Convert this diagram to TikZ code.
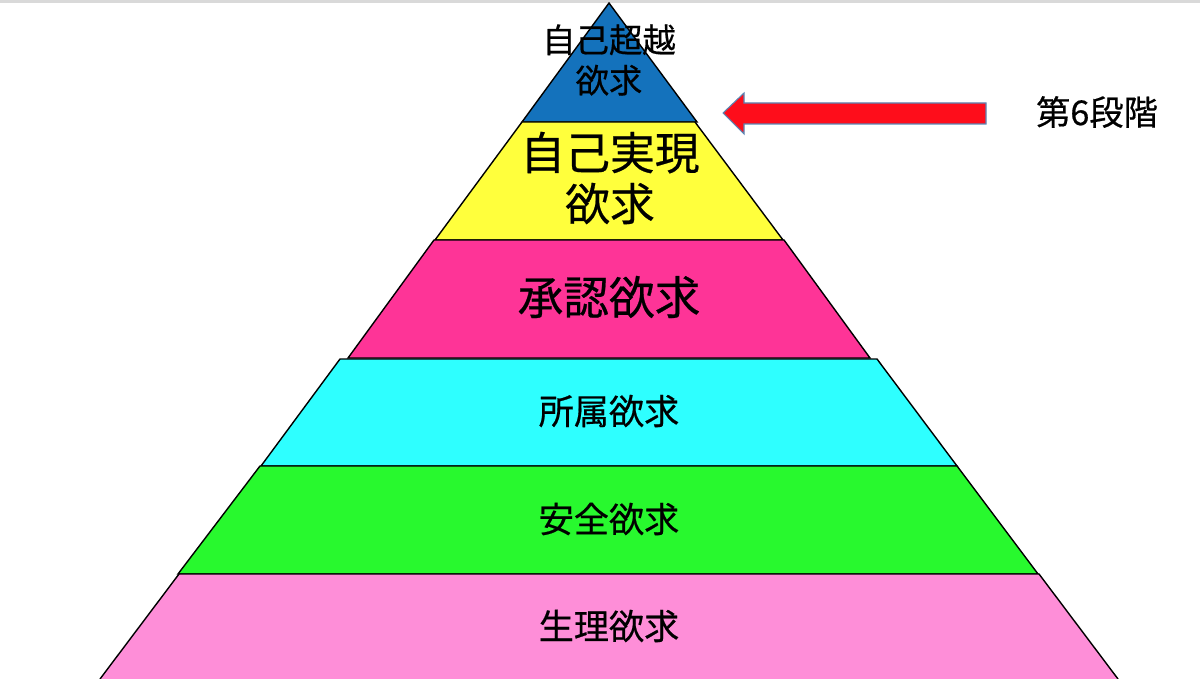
\documentclass[tikz,border=0pt]{standalone}
\usepackage{fontspec}
\setmainfont{Noto Sans CJK JP}[RawFeature={embolden=0.5}]
\usepackage{tikz}

\definecolor{topblue}{HTML}{1472BC}
\definecolor{selfyellow}{HTML}{FFFF3C}
\definecolor{esteempink}{HTML}{FE3497}
\definecolor{belongcyan}{HTML}{2EFFFF}
\definecolor{safegreen}{HTML}{28F92E}
\definecolor{bodypink}{HTML}{FE8ED8}
\definecolor{arrowred}{HTML}{FE0D1B}
\definecolor{arrowedge}{HTML}{5A86B4}

\begin{document}
\begin{tikzpicture}[x=0.02cm, y=-0.02cm,
  layer/.style={draw=black, line width=0.8pt},
  lbl/.style={align=center, inner sep=0pt}]
\useasboundingbox (0,0) rectangle (1200,679);

% thin grey rule at the top
\draw[black!15, line width=1.2pt] (0,1.5) -- (1200,1.5);

% Layers, top to bottom
\filldraw[layer, fill=topblue] (609,3) -- (697,122) -- (522,122) -- cycle;
\filldraw[layer, fill=selfyellow] (522,122) -- (695,122) -- (783,240) -- (435,240) -- cycle;
\filldraw[layer, fill=esteempink] (434,240) -- (784,240) -- (870,358) -- (348,358) -- cycle;
\filldraw[layer, fill=belongcyan] (340,359) -- (877,359) -- (957,466) -- (261,466) -- cycle;
\filldraw[layer, fill=safegreen] (260,466) -- (957,466) -- (1038,574) -- (178,574) -- cycle;
\fill[bodypink] (179,574) -- (1039,574) -- (1118,679) -- (100,679) -- cycle;
\draw[layer] (100,679) -- (179,574) -- (1039,574) -- (1118,679);

% Labels
\node[lbl, font=\fontsize{19pt}{23pt}\selectfont] (transcend) at (609,60) {自己超越\\欲求};
\node[lbl, font=\fontsize{25.5pt}{29pt}\selectfont] (actual) at (610,178) {自己実現\\欲求};
\node[lbl, font=\fontsize{26pt}{30pt}\selectfont] (esteem) at (609,297) {承認欲求};
\node[lbl, font=\fontsize{20pt}{24pt}\selectfont] (belong) at (609,411) {所属欲求};
\node[lbl, font=\fontsize{20pt}{24pt}\selectfont] (safety) at (609,519) {安全欲求};
\node[lbl, font=\fontsize{20pt}{24pt}\selectfont] (physio) at (609,626) {生理欲求};

% Arrow and stage label
\filldraw[fill=arrowred, draw=arrowedge, line width=0.6pt]
  (723,113) -- (744,93) -- (744,103) -- (986,103) -- (986,124)
  -- (744,124) -- (744,134) -- cycle;
\node[lbl, font=\fontsize{19.5pt}{24pt}\selectfont] (stage) at (1097,112) {第6段階};
\end{tikzpicture}
\end{document}
